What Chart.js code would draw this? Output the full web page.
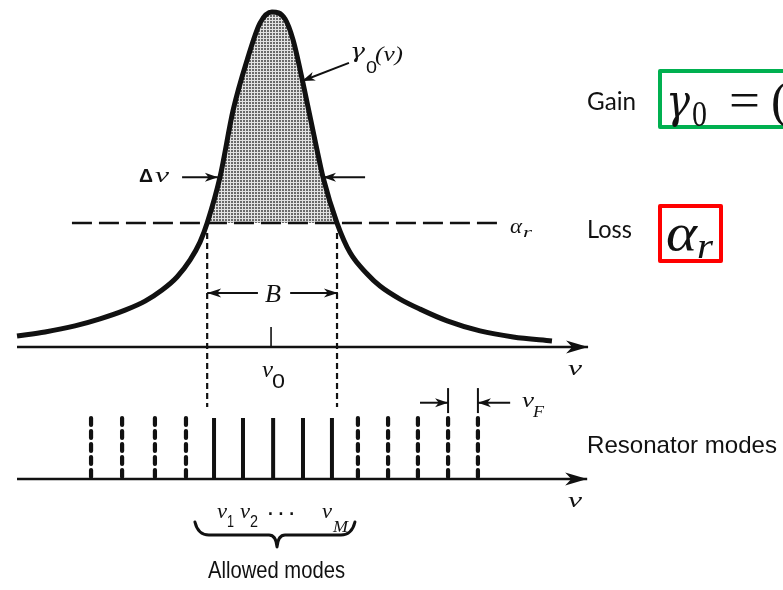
<!DOCTYPE html>
<html><head><meta charset="utf-8">
<style>html,body{margin:0;padding:0;background:#fff;overflow:hidden}canvas{display:block}</style>
<script src="https://cdn.jsdelivr.net/npm/chart.js@4.4.1/dist/chart.umd.min.js"></script>
</head><body>
<canvas id="c" width="783" height="590"></canvas>
<script>
// ---------- values ----------
// x : (nu - nu0) / nuF   (one unit = one resonator-mode spacing)
// y : gain normalised to its peak value
const curveNu   = [-8.51,-7.57,-6.57,-5.73,-4.89,-4.22,-3.65,-3.15,-2.71,-2.38,-2.14,-1.71,-1.27,-0.80,-0.37,0.03,0.47,0.74,1.07,1.54,1.74,2.21,2.65,3.22,3.65,4.32,4.99,5.90,7.00,8.11,9.41];
const curveGain = [0.033,0.045,0.063,0.084,0.110,0.137,0.170,0.209,0.260,0.313,0.370,0.507,0.707,0.857,0.967,1.000,0.979,0.916,0.788,0.588,0.507,0.370,0.281,0.218,0.182,0.143,0.113,0.078,0.048,0.030,0.018];
const lossLevel = 0.370;                 // alpha_r
const lossSpan  = [-6.67, 7.60];
const halfMax   = 0.507;                 // level of the delta-nu arrows
const fwhmEdges = [-1.71, 1.74];
const bandEdges = [-2.14, 2.21];         // where gain = loss (bandwidth B)
const axisSpan  = [-8.51, 10.62];
const modesLeftOff  = [-6.03,-4.99,-3.89,-2.85];
const modesAllowed  = [-1.91,-0.94,0.07,1.07,2.04];
const modesRightOff = [2.91,3.92,4.92,5.93,6.93];
const modeHeight = 1;
const fsrPair   = [5.93, 6.93];          // the two modes marked nu_F
const braceSpan = [-2.55, 0.20, 2.81];

// ---------- helpers ----------
const INK = '#111';
const P = (x, y) => ({x, y});
function seg(points, extra) {
  return Object.assign({data: points, borderColor: INK, borderWidth: 2, pointRadius: 0,
    fill: false, tension: 0, clip: false, yAxisID: 'y'}, extra || {});
}
const stipple = (() => {
  const c = document.createElement('canvas'); c.width = 3; c.height = 3;
  const g = c.getContext('2d');
  g.fillStyle = '#e2e2e2'; g.fillRect(0, 0, 3, 3);
  g.fillStyle = '#6a6a6a'; g.fillRect(0, 0, 2, 2);
  return g.createPattern(c, 'repeat');
})();
const modeSegs = arr => arr.flatMap(m => [P(m, modeHeight), P(m, 0), P(m, null)]);

const datasets = [
  // gain curve, stippled above the loss level
  seg(curveNu.map((x, i) => P(x, curveGain[i])), {borderWidth: 5, cubicInterpolationMode: 'monotone',
      fill: {target: {value: lossLevel}, above: stipple, below: 'rgba(0,0,0,0)'}}),
  // loss line
  seg([P(lossSpan[0], lossLevel), P(lossSpan[1], lossLevel)], {borderWidth: 2.6, borderDash: [20, 7]}),
  // frequency axes
  seg([P(axisSpan[0], 0), P(axisSpan[1], 0)], {borderWidth: 2.4, arrowHead: {len: 22, half: 6.5}}),
  seg([P(axisSpan[0], 0), P(axisSpan[1] - 0.03, 0)], {borderWidth: 2.4, yAxisID: 'y2', arrowHead: {len: 22, half: 6.5}}),
  // nu0 tick
  seg([P(0, 0), P(0, 0.06)], {borderWidth: 1.6}),
  // vertical dashed lines at the band edges
  seg([P(bandEdges[0], 0.34), P(bandEdges[0], -0.179)], {borderWidth: 2.2, borderDash: [6, 4]}),
  seg([P(bandEdges[1], 0.34), P(bandEdges[1], -0.179)], {borderWidth: 2.2, borderDash: [6, 4]}),
  // delta-nu arrows
  seg([P(fwhmEdges[0] - 1.27, halfMax), P(fwhmEdges[0] - 0.07, halfMax)], {arrowHead: {len: 13, half: 4.5}}),
  seg([P(fwhmEdges[1] + 1.41, halfMax), P(fwhmEdges[1] + 0.0, halfMax)], {arrowHead: {len: 13, half: 4.5}}),
  // gamma0(nu) pointer
  seg([P(2.61, 0.848), P(1.04, 0.794)], {arrowHead: {len: 13, half: 4.5}}),
  // B arrows
  seg([P(-0.44, 0.161), P(bandEdges[0], 0.161)], {arrowHead: {len: 14, half: 4.5}}),
  seg([P(0.64, 0.161), P(bandEdges[1] + 0.03, 0.161)], {arrowHead: {len: 14, half: 4.5}}),
  // resonator modes
  seg(modeSegs(modesAllowed), {yAxisID: 'y2', borderWidth: 4}),
  seg(modeSegs(modesLeftOff.concat(modesRightOff)), {yAxisID: 'y2', borderWidth: 4.2, borderDash: [7, 6], borderCapStyle: 'round'}),
  // nuF marker ticks and arrows
  seg([P(fsrPair[0], 1.08), P(fsrPair[0], 1.49)], {yAxisID: 'y2', borderWidth: 2}),
  seg([P(fsrPair[1], 1.08), P(fsrPair[1], 1.49)], {yAxisID: 'y2', borderWidth: 2}),
  seg([P(fsrPair[0] - 0.94, 1.25), P(fsrPair[0], 1.25)], {yAxisID: 'y2', arrowHead: {len: 13, half: 4.5}}),
  seg([P(fsrPair[1] + 1.08, 1.25), P(fsrPair[1], 1.25)], {yAxisID: 'y2', arrowHead: {len: 13, half: 4.5}}),
];

// ---------- text and decorations ----------
const SERIF = 'Liberation Serif', SANS = 'Liberation Sans', DJS = 'DejaVu Serif';
// [text, font, left x, baseline y, target width (0 = natural)]
const labels = [
  ['Δ', `bold 18px ${SANS}`, 139, 182, 14],
  ['ν', `italic 21px ${SERIF}`, 155, 182, 14],
  ['γ', `italic 20px ${DJS}`, 350, 58, 15],
  ['0', `16px ${SANS}`, 366, 73, 11],
  ['(ν)', `italic 22px ${SERIF}`, 375, 61, 28],
  ['B', `italic 26px ${SERIF}`, 265, 302, 16],
  ['ν', `italic 24px ${SERIF}`, 262, 377, 11],
  ['0', `21px ${SANS}`, 272, 388, 13],
  ['ν', `italic 22px ${SERIF}`, 568, 375, 14],
  ['ν', `italic 22px ${SERIF}`, 568, 507, 14],
  ['α', `italic 20px ${SERIF}`, 510, 233, 12],
  ['r', `italic 15px ${SERIF}`, 523, 237, 9],
  ['ν', `italic 22px ${SERIF}`, 522, 407, 12],
  ['F', `italic 17px ${SERIF}`, 533, 417, 11],
  ['ν', `italic 20px ${SERIF}`, 217, 518, 10],
  ['1', `16px ${SANS}`, 227, 527, 7],
  ['ν', `italic 20px ${SERIF}`, 240, 518, 10],
  ['2', `16px ${SANS}`, 250, 527, 8],
  ['· · ·', `bold 18px ${SANS}`, 268, 520, 27],
  ['ν', `italic 20px ${SERIF}`, 322, 518, 10],
  ['M', `italic 16px ${SERIF}`, 333, 532, 15],
  ['Allowed modes', `24px ${SANS}`, 208, 578, 137],
  ['Resonator modes', `24px ${SANS}`, 587, 453, 190],
  ['Gain', `25px Lato`, 587, 110, 49],
  ['Loss', `25px Lato`, 587, 238, 45],
  ['γ', `italic 46px ${DJS}`, 666, 117, 24],
  ['0', `36px ${SERIF}`, 692, 126, 15],
  ['=', `50px ${SERIF}`, 729, 117, 31],
  ['(', `50px ${SERIF}`, 771, 117, 0],
  ['α', `italic 52px ${SERIF}`, 666, 250, 31],
  ['r', `italic 36px ${SERIF}`, 697, 258, 16],
];

function head(ctx, x0, y0, x1, y1, len, half) {
  const a = Math.atan2(y1 - y0, x1 - x0);
  ctx.save(); ctx.translate(x1, y1); ctx.rotate(a);
  ctx.beginPath(); ctx.moveTo(0, 0); ctx.lineTo(-len, -half); ctx.lineTo(-len * 0.72, 0); ctx.lineTo(-len, half);
  ctx.closePath(); ctx.fillStyle = INK; ctx.fill(); ctx.restore();
}
function fitText(ctx, t, font, x, y, w) {
  ctx.font = font;
  const m = ctx.measureText(t).width;
  ctx.save(); ctx.translate(x, y);
  if (w > 0 && m > 0) ctx.scale(w / m, 1);
  ctx.fillText(t, 0, 0); ctx.restore();
}

const overlay = {
  id: 'overlay',
  afterDatasetsDraw(chart) {
    const ctx = chart.ctx;
    chart.data.datasets.forEach((ds, i) => {
      if (!ds.arrowHead) return;
      const pts = chart.getDatasetMeta(i).data;
      const a = pts[pts.length - 2], b = pts[pts.length - 1];
      head(ctx, a.x, a.y, b.x, b.y, ds.arrowHead.len, ds.arrowHead.half);
    });
    const X = v => chart.scales.x.getPixelForValue(v);
    const Y2 = v => chart.scales.y2.getPixelForValue(v);
    // brace under the allowed modes
    const xl = X(braceSpan[0]), xm = X(braceSpan[1]), xr = X(braceSpan[2]);
    const yt = Y2(-0.705), yb = Y2(-0.918), yp = Y2(-1.115);
    ctx.save();
    ctx.strokeStyle = INK; ctx.lineWidth = 3; ctx.lineJoin = 'round'; ctx.lineCap = 'round';
    ctx.beginPath();
    ctx.moveTo(xl, yt);
    ctx.quadraticCurveTo(xl + 3, yb, xl + 14, yb);
    ctx.lineTo(xm - 8, yb);
    ctx.quadraticCurveTo(xm - 1, yb, xm, yp);
    ctx.quadraticCurveTo(xm + 1, yb, xm + 8, yb);
    ctx.lineTo(xr - 14, yb);
    ctx.quadraticCurveTo(xr - 3, yb, xr, yt);
    ctx.stroke();
    // boxes on the right
    ctx.lineWidth = 4; ctx.lineJoin = 'round';
    ctx.strokeStyle = '#00b050'; ctx.strokeRect(660, 71, 160, 56);
    ctx.strokeStyle = '#ff0000'; ctx.strokeRect(660, 206, 61, 55);
    // text
    ctx.fillStyle = INK; ctx.textAlign = 'left'; ctx.textBaseline = 'alphabetic';
    labels.forEach(l => fitText(ctx, l[0], l[1], l[2], l[3], l[4]));
    ctx.restore();
  }
};

new Chart(document.getElementById('c'), {
  type: 'line',
  data: {datasets},
  options: {
    responsive: false, animation: false, events: [],
    layout: {padding: 0},
    plugins: {legend: {display: false}, tooltip: {enabled: false}, filler: {drawTime: 'beforeDatasetsDraw'}},
    scales: {
      x: {type: 'linear', min: -9.08, max: 17.15, display: false},
      y: {type: 'linear', min: -0.7254, max: 1.0358, display: false},
      y2: {type: 'linear', min: -1.820, max: 7.852, display: false}
    }
  },
  plugins: [overlay]
});
</script>
</body></html>
